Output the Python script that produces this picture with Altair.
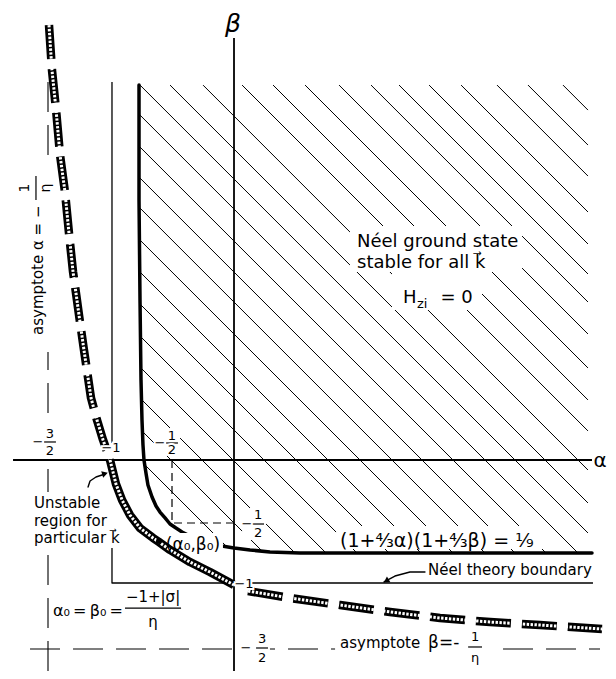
import altair as alt
import numpy as np
import pandas as pd

FONT = "DejaVu Sans"

# ---------------- curves, in (alpha, beta) units ----------------
# stability boundary (1 + 4/3 a)(1 + 4/3 b) = 1/9 as drawn
stab_alpha = [-0.766, -0.766, -0.758, -0.750, -0.742, -0.734, -0.726, -0.710, -0.694, -0.661,
              -0.629, -0.597, -0.556, -0.516, -0.468, -0.419, -0.371, -0.315, -0.258, -0.194,
              -0.097, 0.0, 0.129, 0.290, 0.532, 1.339, 2.887]
stab_beta = [2.976, 2.063, 1.270, 0.635, 0.317, 0.119, 0.0, -0.103, -0.198, -0.294,
             -0.365, -0.413, -0.460, -0.508, -0.540, -0.571, -0.595, -0.619, -0.643, -0.659,
             -0.683, -0.698, -0.714, -0.730, -0.738, -0.738, -0.738]

# unstable-region band (hyperbola with asymptotes -1/eta)
band_up_alpha = [-1.492, -1.468, -1.435, -1.403, -1.363, -1.331, -1.298, -1.250, -1.210,
                 -1.153, -1.105, -1.056, -1.0]
band_up_beta = [3.452, 3.095, 2.778, 2.421, 2.127, 1.802, 1.492, 1.151, 0.873,
                0.492, 0.317, 0.159, 0.0]
band_mid_alpha = [-1.0, -0.976, -0.952, -0.903, -0.839, -0.758, -0.653, -0.605, -0.516,
                  -0.355, -0.194, 0.0]
band_mid_beta = [0.0, -0.095, -0.190, -0.317, -0.437, -0.540, -0.619, -0.651, -0.714,
                 -0.810, -0.889, -0.992]
band_right_alpha = [0.113, 0.452, 0.855, 1.258, 1.661, 2.065, 2.468, 2.968]
band_right_beta = [-1.040, -1.095, -1.151, -1.206, -1.254, -1.286, -1.310, -1.341]

# Neel theory boundary (thin L-shaped line)
neel_v1_alpha = [-0.984, -0.984]
neel_v1_beta = [3.0, 0.135]
neel_v2_alpha = [-0.984, -0.984, 2.895]
neel_v2_beta = [-0.698, -0.976, -0.976]

# hatch lines: where each one crosses the alpha axis
hatch_cross = [-0.758, -0.508, -0.258, -0.008, 0.242, 0.5, 0.758, 1.016, 1.274, 1.516,
               1.766, 2.024, 2.266, 2.508, 2.774, 3.089, 3.339, 3.597, 3.871, 4.129,
               4.355, 4.597, 4.855, 5.145, 5.395, 5.677]
hatch_slope = -0.984
hatch_top = 2.976
hatch_right = 2.855

BOTTOM = -1.6746

# ---------------- scales ----------------
XS = alt.Scale(domain=[-1.8226, 3.0161], nice=False, zero=False)
YS = alt.Scale(domain=[BOTTOM, 3.5873], nice=False, zero=False)


def X():
    return alt.X("a:Q", scale=XS, axis=None)


def Y():
    return alt.Y("b:Q", scale=YS, axis=None)


def path_df(segments):
    rows = []
    for sid, (aa, bb) in enumerate(segments):
        for i, (a, b) in enumerate(zip(aa, bb)):
            rows.append(dict(a=a, b=b, seg=sid, i=i))
    return pd.DataFrame(rows)


def lines(segments, width, dash=None, color="black", cap="butt"):
    kw = dict(strokeWidth=width, color=color, strokeCap=cap, strokeJoin="round")
    if dash:
        kw["strokeDash"] = dash
    return alt.Chart(path_df(segments)).mark_line(**kw).encode(
        x=X(), y=Y(), detail="seg:N", order="i:Q")


def texts(txt, aa, bb, size, align="left", baseline="alphabetic", angle=None,
          style="normal", halo=0):
    df = pd.DataFrame(dict(t=txt, a=aa, b=bb))
    base = dict(font=FONT, fontSize=size, align=align, baseline=baseline, fontStyle=style)
    if angle is not None:
        base["angle"] = angle
    out = []
    if halo:
        out.append(alt.Chart(df).mark_text(color="white", stroke="white", strokeWidth=halo,
                                           **base).encode(x=X(), y=Y(), text="t:N"))
    out.append(alt.Chart(df).mark_text(color="black", **base).encode(x=X(), y=Y(), text="t:N"))
    return out


# ---------------- hatch geometry (clipped to the stable region) ----------------
s_a = np.array(stab_alpha[1:])
s_b = np.array(stab_beta[1:])
grid = np.linspace(-0.8, 2.9, 4000)
hatch_segs = []
for a0 in hatch_cross:
    b = hatch_slope * (grid - a0)
    bc = np.interp(grid, s_a, s_b)
    inside = (grid >= stab_alpha[0]) & (b > bc) & (grid <= hatch_right) & (b <= hatch_top)
    if inside.any():
        g = grid[inside]
        hatch_segs.append(([g.min(), g.max()],
                           [hatch_slope * (g.min() - a0), hatch_slope * (g.max() - a0)]))

layers = []
layers.append(lines(hatch_segs, 1.0))

# axes
layers.append(lines([([0, 0], [3.349, BOTTOM]), ([-1.782, 2.887], [0, 0])], 1.8))
# Neel theory boundary
layers.append(lines([(neel_v1_alpha, neel_v1_beta), (neel_v2_alpha, neel_v2_beta)], 1.3))
# short-dashed guides to (-1/2, -1/2)
layers.append(lines([([-0.5, -0.5, 0.0], [0.0, -0.5, -0.5])], 1.2, dash=[8, 5]))
# long-dashed asymptotes at -3/2
layers.append(lines([([-1.5, -1.5], [3.0, BOTTOM]), ([-1.645, 2.952], [-1.5, -1.5])],
                    1.1, dash=[30, 13]))
# stability boundary
layers.append(lines([(stab_alpha, stab_beta)], 3.5, cap="round"))

# white label backgrounds
rect_a = [0.935, 1.274, 0.823, -0.581, 0.815, -1.758, -1.645, -1.476, -1.621, -0.645, 0.065, 0.040, 0.024]
rect_a2 = [2.323, 2.0, 2.548, -0.089, 2.065, -1.460, -1.048, -0.395, -1.419, -0.435, 0.258, 0.290, 0.145]
rect_b = [1.857, 1.492, -0.524, -0.579, -1.373, 2.341, -0.254, -1.016, 0.278, 0.254, -0.381, -1.365, -0.928]
rect_b2 = [1.492, 1.190, -0.706, -0.722, -1.603, 0.857, -0.683, -1.349, 0.032, 0.032, -0.635, -1.643, -1.040]
rect_df = pd.DataFrame(dict(a=rect_a, a2=rect_a2, b=rect_b, b2=rect_b2))
layers.append(alt.Chart(rect_df).mark_rect(color="white").encode(
    x=X(), x2="a2:Q", y=Y(), y2="b2:Q"))

# unstable band: black tape with white, ticked interior
layers.append(lines([(band_up_alpha, band_up_beta)], 8.5, dash=[34, 10]))
layers.append(lines([(band_right_alpha, band_right_beta)], 8.5, dash=[35, 11]))
layers.append(lines([(band_mid_alpha, band_mid_beta)], 8.5))
layers.append(lines([(band_up_alpha, band_up_beta), (band_mid_alpha, band_mid_beta),
                     (band_right_alpha, band_right_beta)], 3.0, dash=[2.4, 1.5], color="white"))

# fraction bars
bar_a = [-1.532, -0.548, 0.146, 0.178, 1.888, -0.879, -1.597]
bar_a2 = [-1.436, -0.452, 0.242, 0.274, 2.0, -0.427, -1.597]
bar_b = [0.143, 0.135, -0.508, -1.492, -1.484, -1.175, 2.063]
bar_b2 = [0.143, 0.135, -0.508, -1.492, -1.484, -1.175, 2.254]
bar_df = pd.DataFrame(dict(a=bar_a, a2=bar_a2, b=bar_b, b2=bar_b2))
layers.append(alt.Chart(bar_df).mark_rule(color="black", strokeWidth=1.2).encode(
    x=X(), x2="a2:Q", y=Y(), y2="b2:Q"))

# texts
layers += texts(["Néel ground state", "stable for all k\u20d7", "H", "= 0"],
                [0.992, 0.992, 1.363, 1.665],
                [1.690, 1.524, 1.246, 1.246], 18)
layers += texts(["β=-"], [1.565], [-1.492], 17)
layers += texts(["(1+⁴⁄₃α)(1+⁴⁄₃β) = ¹⁄₉"], [0.855], [-0.690], 19)
layers += texts(["α₀\u2009=\u2009β₀\u2009="], [-1.460], [-1.238], 16)
layers += texts(["zi"], [1.476], [1.206], 13)
layers += texts(["Néel theory boundary", "asymptote", "Unstable", "region for",
                 "particular k\u20d7"],
                [1.565, 0.855, -1.613, -1.613, -1.613],
                [-0.913, -1.492, -0.381, -0.524, -0.659], 15)
layers += texts(["(α₀,β₀)"], [-0.331], [-0.714], 17, align="center")
layers += texts(["−1", "−1", "−", "−", "−", "−", "3", "2", "1", "2", "1", "2", "3", "2"],
                [-0.992, 0.081, -1.581, -0.597, 0.105, 0.097,
                 -1.484, -1.484, -0.5, -0.5, 0.194, 0.194, 0.226, 0.226],
                [0.095, -0.984, 0.143, 0.135, -0.508, -1.492,
                 0.206, 0.071, 0.190, 0.079, -0.437, -0.579, -1.421, -1.571],
                13, align="center", baseline="middle", halo=4)
layers += texts(["1", "η"], [1.944, 1.944], [-1.405, -1.575], 13, align="center",
                baseline="middle")
layers += texts(["−1+|σ|", "η"], [-0.653, -0.653], [-1.087, -1.286], 15, align="center",
                baseline="middle")
layers += texts(["β"], [-0.008], [3.460], 25, align="center", baseline="middle",
                style="italic")
layers += texts(["α"], [2.952], [-0.008], 20, align="center", baseline="middle")
layers += texts(["asymptote  α = −"], [-1.581], [0.992], 15, baseline="middle", angle=270)
layers += texts(["1", "η"], [-1.686, -1.516], [2.159, 2.159], 14, align="center",
                baseline="middle", angle=270)

# arrows
layers.append(lines([([1.540, 1.419, 1.298, 1.210], [-0.889, -0.889, -0.921, -0.968]),
                     ([-1.177, -1.161, -1.113, -1.040], [-0.214, -0.167, -0.135, -0.111])],
                    1.4, cap="round"))
head_df = pd.DataFrame(dict(a=[1.234, -1.048], b=[-0.956, -0.111], ang=[239, 73]))
layers.append(alt.Chart(head_df).mark_point(shape="triangle", filled=True, size=45,
                                            color="black", opacity=1).encode(
    x=X(), y=Y(), angle=alt.Angle("ang:Q", scale=None)))
# the point (alpha0, beta0)
dot_df = pd.DataFrame(dict(a=[-0.605], b=[-0.643]))
layers.append(alt.Chart(dot_df).mark_point(shape="circle", filled=True, size=35,
                                           color="black", opacity=1).encode(x=X(), y=Y()))

chart = alt.layer(*layers).properties(
    width=600, height=663, padding=0,
    autosize=alt.AutoSizeParams(type="none"),
).configure_view(strokeWidth=0)

chart.save("out.html", embed_options={"renderer": "svg", "actions": False})
